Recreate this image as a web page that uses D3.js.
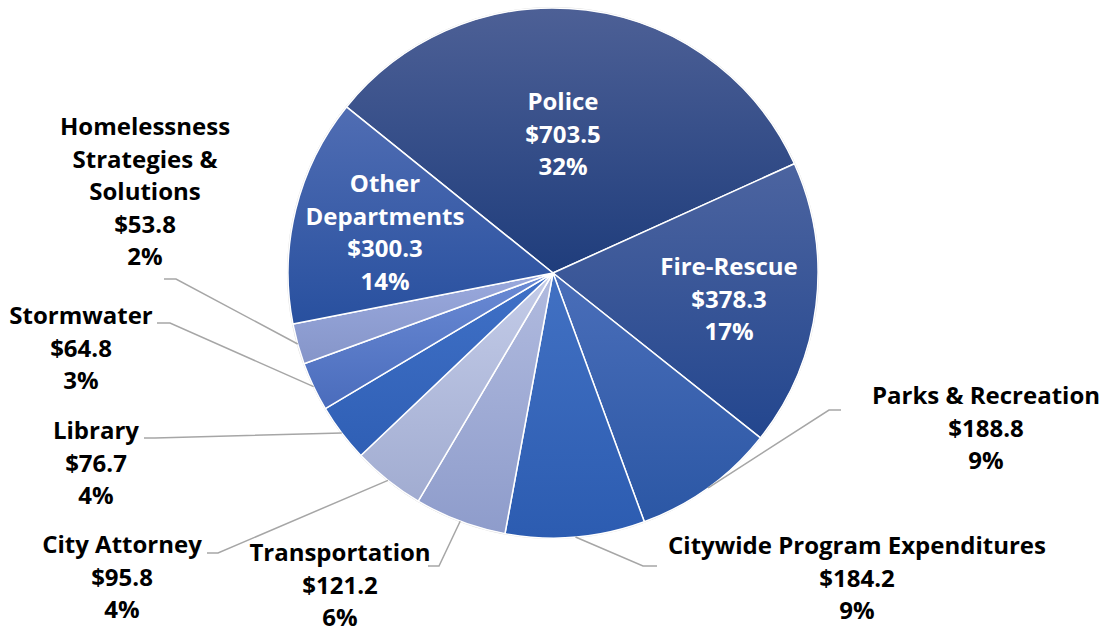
<!DOCTYPE html>
<html>
<head>
<meta charset="utf-8">
<script src="https://cdn.jsdelivr.net/npm/d3@7"></script>
<style>
  html, body { margin: 0; padding: 0; background: #fff; }
  svg { display: block; }
  text { font-family: "Open Sans", "Noto Sans", sans-serif; font-weight: 700; }
</style>
</head>
<body>
<svg id="chart" width="1101" height="629"></svg>
<script>
// Budget by department (millions of dollars)
const departments = [
  ["Police"],
  ["Fire-Rescue"],
  ["Parks & Recreation"],
  ["Citywide Program Expenditures"],
  ["Transportation"],
  ["City Attorney"],
  ["Library"],
  ["Stormwater"],
  ["Homelessness", "Strategies &", "Solutions"],
  ["Other", "Departments"]
];
const amounts = [703.5, 378.3, 188.8, 184.2, 121.2, 95.8, 76.7, 64.8, 53.8, 300.3];
const percentLabels = ["32%", "17%", "9%", "9%", "6%", "4%", "4%", "3%", "2%", "14%"];

// Slice fills: vertical gradient from light (top) to dark (bottom)
const topColors = ["#4d6096", "#4c64a0", "#4a6eb9", "#4271c3", "#b1bbdf", "#c4cce8", "#4071c7", "#6b8bd5", "#9aa9dd", "#506db3"];
const bottomColors = ["#1f3d7c", "#23468e", "#2b57a5", "#2c5cb1", "#8e9ccb", "#a1acd1", "#2f5fb5", "#4a6cbc", "#8595c9", "#28509f"];

// Label placement: inside labels white, outside labels black with leader lines
const inside = [true, true, false, false, false, false, false, false, false, true];
const labelCenters = [
  [563, 102], [729, 267], [986, 396], [857, 546], [340, 553],
  [122, 545], [96, 431], [81, 316], [145, 127], [385, 184]
];
// leader line: elbow point and end point beside the label
const leaderElbows = [null, null, [829, 410], [643, 566], [439, 566], [218, 553], [155, 438], [170, 323], [176, 279], null];
const leaderEnds   = [null, null, [841, 410], [657, 566], [428, 566], [207, 553], [144, 438], [157, 323], [164, 279], null];

const cx = 553, cy = 273, radius = 265;
const lineHeight = 32.5;
const startAngle = -51.2 * Math.PI / 180;

const svg = d3.select("#chart");
const defs = svg.append("defs");

const pie = d3.pie().sort(null).value(d => d)
  .startAngle(startAngle).endAngle(startAngle + 2 * Math.PI);
const arcs = pie(amounts);
const arc = d3.arc().innerRadius(0).outerRadius(radius);

arcs.forEach((a, i) => {
  const g = defs.append("linearGradient")
    .attr("id", "grad" + i)
    .attr("x1", 0).attr("y1", 0).attr("x2", 0).attr("y2", 1);
  g.append("stop").attr("offset", "0%").attr("stop-color", topColors[i]);
  g.append("stop").attr("offset", "100%").attr("stop-color", bottomColors[i]);
});

const pieG = svg.append("g").attr("transform", `translate(${cx},${cy})`);

pieG.append("circle").attr("r", radius + 0.5)
  .attr("fill", "none").attr("stroke", "#d9d9d9").attr("stroke-width", 1);

pieG.selectAll("path.slice")
  .data(arcs)
  .join("path")
  .attr("class", "slice")
  .attr("d", arc)
  .attr("fill", (d, i) => `url(#grad${i})`)
  .attr("stroke", "#ffffff")
  .attr("stroke-width", 1.5)
  .attr("stroke-linejoin", "round");

// Leader lines from the slice's outer edge at its mid-angle
const edgePoint = d => {
  const mid = (d.startAngle + d.endAngle) / 2;
  return [cx + radius * Math.sin(mid), cy - radius * Math.cos(mid)];
};

arcs.forEach((d, i) => {
  if (inside[i]) return;
  const p0 = edgePoint(d);
  svg.append("polyline")
    .attr("points", [p0, leaderElbows[i], leaderEnds[i]].map(p => p.join(",")).join(" "))
    .attr("fill", "none")
    .attr("stroke", "#a6a6a6")
    .attr("stroke-width", 1.5);
});

// Labels: name lines, amount, percent
arcs.forEach((d, i) => {
  const lines = departments[i].concat(["$" + d.data.toFixed(1), percentLabels[i]]);
  const t = svg.append("text")
    .attr("text-anchor", "middle")
    .attr("font-size", 24)
    .attr("fill", inside[i] ? "#ffffff" : "#000000");
  lines.forEach((s, k) => {
    t.append("tspan")
      .attr("x", labelCenters[i][0])
      .attr("y", labelCenters[i][1] + k * lineHeight)
      .attr("dy", "0.35em")
      .text(s);
  });
});
</script>
</body>
</html>
